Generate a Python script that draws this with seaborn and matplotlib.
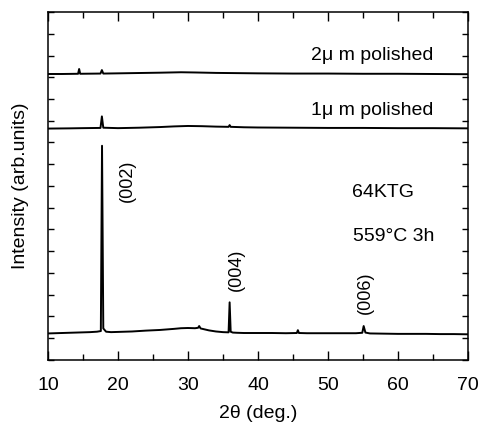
import matplotlib
matplotlib.use("Agg")
import matplotlib.pyplot as plt
import numpy as np
import pandas as pd
import seaborn as sns
from matplotlib.ticker import MultipleLocator, NullFormatter

sns.set_theme(style="ticks")
plt.rcParams['font.family'] = ['Liberation Sans', 'DejaVu Sans']
plt.rcParams['text.color'] = 'black'
plt.rcParams['axes.labelcolor'] = 'black'
plt.rcParams['xtick.color'] = 'black'
plt.rcParams['ytick.color'] = 'black'

# XRD patterns (2theta in deg, intensity in arb. units, offset stacked)
tt_asgrown = [10, 12, 14, 16, 17.0, 17.55, 17.72, 17.9, 18.3, 19, 20, 22, 24, 26, 28, 29,
              30, 31, 31.45, 31.6, 31.8, 33, 34, 35, 35.8, 35.95, 36.1, 36.4, 37, 38, 40,
              42, 44, 45.55, 45.7, 45.85, 47, 50, 52, 54, 54.9, 55.1, 55.35, 56, 58, 60,
              62, 64, 66, 68, 70]
int_asgrown = [1.22, 1.24, 1.26, 1.28, 1.30, 1.33, 9.85, 1.45, 1.30, 1.28, 1.29, 1.31, 1.35,
               1.38, 1.43, 1.46, 1.47, 1.46, 1.48, 1.56, 1.45, 1.36, 1.31, 1.28, 1.27, 2.65,
               1.30, 1.26, 1.25, 1.24, 1.24, 1.24, 1.23, 1.24, 1.37, 1.24, 1.23, 1.23, 1.23,
               1.23, 1.25, 1.56, 1.26, 1.22, 1.21, 1.20, 1.20, 1.20, 1.19, 1.19, 1.18]

tt_1um = [10, 13, 15, 17.5, 17.7, 17.9, 20, 23, 26, 28, 30, 32, 34, 35.8, 35.95, 36.1, 38,
          40, 45, 50, 55, 60, 65, 70]
int_1um = [10.64, 10.65, 10.66, 10.67, 11.20, 10.68, 10.66, 10.68, 10.71, 10.74, 10.76,
           10.75, 10.73, 10.72, 10.80, 10.72, 10.70, 10.69, 10.68, 10.67, 10.67, 10.66,
           10.66, 10.65]

tt_2um = [10, 12, 14.3, 14.45, 14.6, 17.5, 17.7, 17.9, 20, 22, 26, 29, 31, 34, 37, 40,
          45, 50, 55, 60, 65, 70]
int_2um = [13.15, 13.15, 13.16, 13.38, 13.16, 13.17, 13.33, 13.17, 13.18, 13.19, 13.21,
           13.23, 13.22, 13.20, 13.19, 13.18, 13.17, 13.17, 13.16, 13.16, 13.15, 13.14]

df = pd.concat([
    pd.DataFrame({'two_theta': tt_asgrown, 'intensity': int_asgrown, 'sample': 'as grown'}),
    pd.DataFrame({'two_theta': tt_1um, 'intensity': int_1um, 'sample': '1um'}),
    pd.DataFrame({'two_theta': tt_2um, 'intensity': int_2um, 'sample': '2um'}),
])

fig = plt.figure(figsize=(4.78, 4.26), dpi=100)
ax = fig.add_axes([0.1004, 0.155, 0.8786, 0.8168])

sns.lineplot(data=df, x='two_theta', y='intensity', hue='sample', units='sample',
             estimator=None, palette=['black'] * 3, linewidth=1.4, legend=False, ax=ax)

ax.set_xlim(10, 70)
ax.set_ylim(0, 16)
ax.xaxis.set_major_locator(MultipleLocator(10))
ax.xaxis.set_minor_locator(MultipleLocator(5))
ax.yaxis.set_major_locator(MultipleLocator(1))
ax.yaxis.set_major_formatter(NullFormatter())
ax.tick_params(axis='x', which='major', direction='in', length=6.5, width=1,
               top=True, bottom=True, labelsize=14, pad=12)
ax.tick_params(axis='x', which='minor', direction='in', length=4, width=1,
               top=True, bottom=True)
ax.tick_params(axis='y', which='major', direction='in', length=4, width=1,
               left=True, right=True)
for s in ax.spines.values():
    s.set_color('black')
    s.set_linewidth(1.1)

ax.set_xlabel('2θ (deg.)', fontsize=14, labelpad=8)
ax.set_ylabel('Intensity (arb.units)', fontsize=14, labelpad=10)

ax.text(65.0, 13.79, '2μ m polished', fontsize=14, ha='right', va='baseline')
ax.text(65.0, 11.26, '1μ m polished', fontsize=14, ha='right', va='baseline')
ax.text(53.4, 7.49, '64KTG', fontsize=14, ha='left', va='baseline')
ax.text(53.6, 5.47, '559°C 3h', fontsize=14, ha='left', va='baseline')
ax.text(21.3, 8.23, '(002)', fontsize=13, rotation=90, ha='center', va='center')
ax.text(36.9, 4.15, '(004)', fontsize=13, rotation=90, ha='center', va='center')
ax.text(55.3, 3.08, '(006)', fontsize=13, rotation=90, ha='center', va='center')

fig.savefig('out.png', dpi=100)
